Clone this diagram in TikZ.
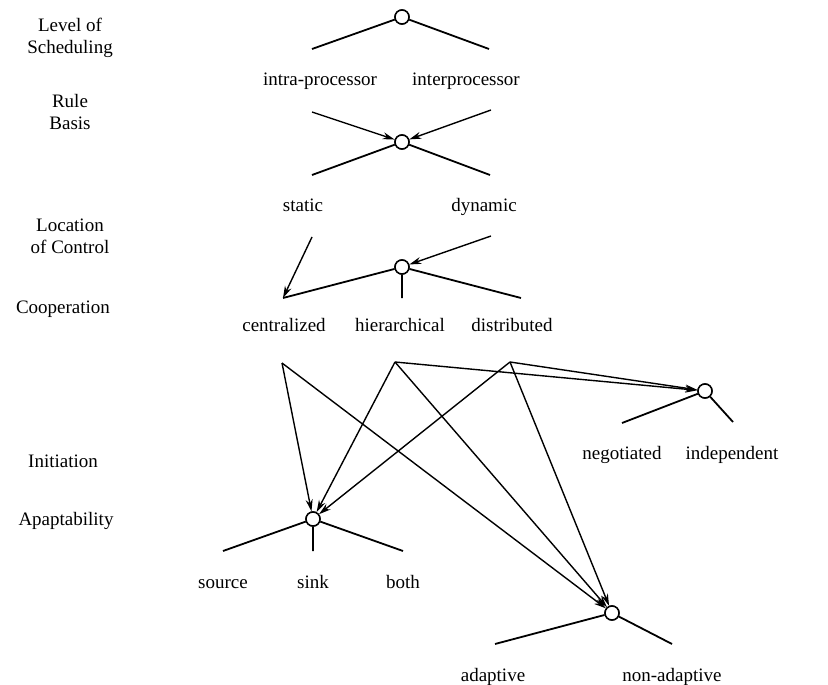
\documentclass[tikz,border=0pt]{standalone}
\usepackage{fontspec}
\setmainfont{Liberation Serif}
\usetikzlibrary{arrows.meta}
\begin{document}
\begin{tikzpicture}[x=1pt,y=-1pt,
  every node/.style={font=\fontsize{19}{22}\selectfont},
  hub/.style={draw,circle,line width=1.5pt,minimum size=14pt,inner sep=0pt,fill=white},
  branch/.style={line width=1.8pt},
  link/.style={line width=1.4pt,-{Stealth[length=12pt,width=7pt]}},
  lab/.style={anchor=base,inner sep=0pt},
  cat/.style={align=center,inner sep=0pt}]
\useasboundingbox (0,0) rectangle (828,685);

% category labels
\node[cat] (kLevel) at (70,38) {Level of\\Scheduling};
\node[cat] (kRule) at (70,112) {Rule\\Basis};
\node[cat] (kLoc) at (70,236) {Location\\of Control};
\node[cat] (kCoop) at (63,309) {Cooperation};
\node[cat] (kInit) at (63,461) {Initiation};
\node[cat] (kAdapt) at (66,521) {Apaptability};

% hubs
\node[hub] (L) at (402,17) {};
\node[hub] (R) at (402,142) {};
\node[hub] (C) at (402,267) {};
\node[hub] (P) at (705,391) {};
\node[hub] (I) at (313,519) {};
\node[hub] (A) at (612,613) {};

% branch ends
\coordinate (L1) at (312,49);
\coordinate (L2) at (489,49);
\coordinate (R1) at (312,175);
\coordinate (R2) at (490,175);
\coordinate (Rin1) at (312,112);
\coordinate (Rin2) at (491,110);
\coordinate (C1) at (283,298);
\coordinate (C2) at (402,298);
\coordinate (C3) at (521,298);
\coordinate (Cin1) at (312,237);
\coordinate (Cin2) at (491,236);
\coordinate (P1) at (622,423);
\coordinate (P2) at (733,422);
\coordinate (I1) at (223,551);
\coordinate (I2) at (313,551);
\coordinate (I3) at (403,551);
\coordinate (A1) at (495,644);
\coordinate (A2) at (672,644);
\coordinate (sC) at (282,363);
\coordinate (sH) at (395,362);
\coordinate (sD) at (510,362);

% value labels
\node[lab] (intra) at (320,85) {intra-processor};
\node[lab] (inter) at (466,85) {interprocessor};
\node[lab] (stat) at (303,211) {static};
\node[lab] (dyn) at (484,211) {dynamic};
\node[lab] (cen) at (284,331) {centralized};
\node[lab] (hie) at (400,331) {hierarchical};
\node[lab] (dis) at (512,331) {distributed};
\node[lab] (neg) at (622,459) {negotiated};
\node[lab] (ind) at (732,459) {independent};
\node[lab] (src) at (223,588) {source};
\node[lab] (snk) at (313,588) {sink};
\node[lab] (bth) at (403,588) {both};
\node[lab] (ada) at (493,681) {adaptive};
\node[lab] (nad) at (672,681) {non-adaptive};

% branches
\draw[branch] (L) -- (L1) (L) -- (L2);
\draw[branch] (R) -- (R1) (R) -- (R2);
\draw[branch] (C) -- (C1) (C) -- (C2) (C) -- (C3);
\draw[branch] (P) -- (P1) (P) -- (P2);
\draw[branch] (I) -- (I1) (I) -- (I2) (I) -- (I3);
\draw[branch] (A) -- (A1) (A) -- (A2);

% links
\draw[link] (Rin1) -- (R);
\draw[link] (Rin2) -- (R);
\draw[link] (Cin1) -- (C1);
\draw[link] (Cin2) -- (C);
\draw[link] (sC) -- (I);
\draw[link] (sC) -- (A);
\draw[link] (sH) -- (I);
\draw[link] (sH) -- (A);
\draw[link] (sH) -- (P);
\draw[link] (sD) -- (I);
\draw[link] (sD) -- (A);
\draw[link] (sD) -- (P);

% redraw hubs on top
\node[hub] at (L) {};
\node[hub] at (R) {};
\node[hub] at (C) {};
\node[hub] at (P) {};
\node[hub] at (I) {};
\node[hub] at (A) {};
\end{tikzpicture}
\end{document}
